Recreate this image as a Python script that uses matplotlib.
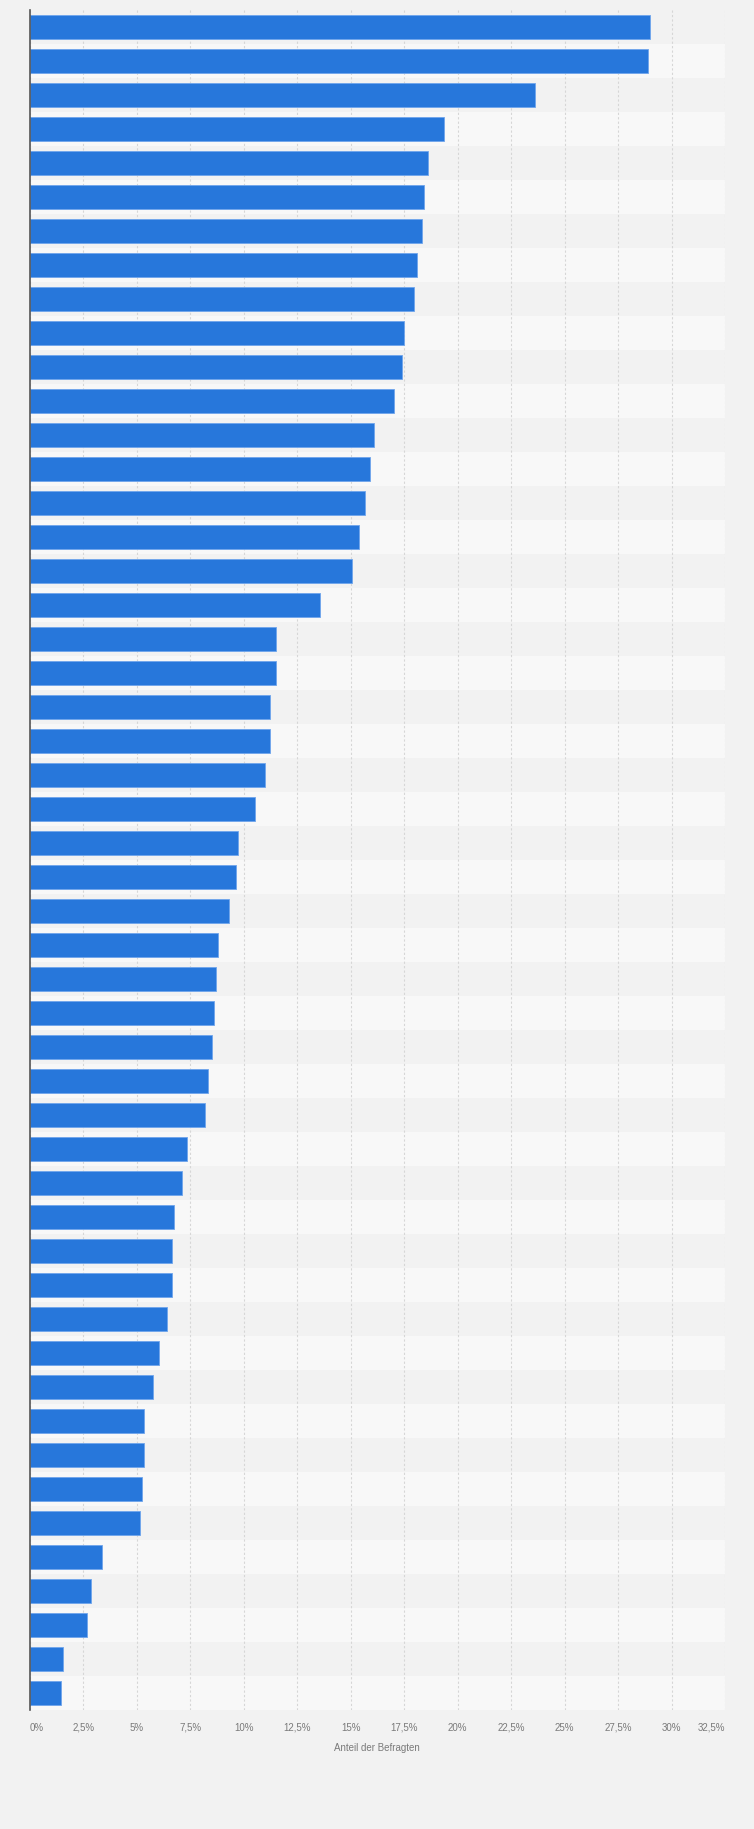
import numpy as np
import matplotlib
matplotlib.use("Agg")
import matplotlib.pyplot as plt

# Werte (Anteil der Befragten in %), von oben nach unten
ranks = list(range(1, 51))
shares = [29.0, 28.9, 23.6, 19.35, 18.6, 18.45, 18.35, 18.1, 17.95, 17.5,
          17.4, 17.05, 16.1, 15.9, 15.65, 15.4, 15.05, 13.55, 11.5, 11.5,
          11.25, 11.25, 11.0, 10.55, 9.75, 9.65, 9.3, 8.8, 8.7, 8.6,
          8.5, 8.35, 8.2, 7.35, 7.1, 6.75, 6.65, 6.65, 6.4, 6.05,
          5.75, 5.35, 5.35, 5.25, 5.15, 3.4, 2.85, 2.7, 1.55, 1.45]
xticks = [0, 2.5, 5, 7.5, 10, 12.5, 15, 17.5, 20, 22.5, 25, 27.5, 30, 32.5]
xtick_labels = ["0%", "2,5%", "5%", "7,5%", "10%", "12,5%", "15%", "17,5%",
                "20%", "22,5%", "25%", "27,5%", "30%", "32,5%"]
xlabel = "Anteil der Befragten"

plt.rcParams['font.family'] = ['Liberation Sans', 'DejaVu Sans']

W, H = 754, 1829
fig = plt.figure(figsize=(W / 100, H / 100), dpi=100, facecolor='#f2f2f2')
ax = fig.add_axes([29.7 / W, (H - 1710) / H, (725 - 29.7) / W, 1700 / H])
ax.set_facecolor('#f2f2f2')

y = np.arange(len(ranks))
# abwechselnde Hintergrundstreifen
for i in y:
    ax.axhspan(i - 0.5, i + 0.5, color='#f2f2f2' if i % 2 == 0 else '#f8f8f8',
               lw=0, zorder=0)

ax.barh(y, shares, height=0.7, color='#2777db', edgecolor='#6fa5ec',
        linewidth=0.6, zorder=3)

ax.set_xlim(0, 32.5)
ax.set_ylim(len(ranks) - 0.5, -0.5)
ax.set_yticks([])

ax.set_xticks(xticks)
ax.set_xticklabels(xtick_labels, fontsize=7, color='#7a7a7a')
labels = ax.get_xticklabels()
for lab in labels:
    lab.set_verticalalignment('baseline')
labels[0].set_horizontalalignment('left')
labels[-1].set_horizontalalignment('right')
ax.tick_params(axis='x', length=0, pad=15)
ax.set_xlabel(xlabel, fontsize=7, color='#7a7a7a', labelpad=7)

ax.grid(axis='x', color='#d6d6d6', linestyle=(0, (2, 2)), linewidth=0.8, zorder=1)
ax.set_axisbelow(True)

for s in ['top', 'right', 'bottom']:
    ax.spines[s].set_visible(False)
ax.spines['left'].set_color('#555555')
ax.spines['left'].set_linewidth(1.2)
ax.spines['left'].set_zorder(4)

fig.savefig('out.png', dpi=100, facecolor=fig.get_facecolor())
